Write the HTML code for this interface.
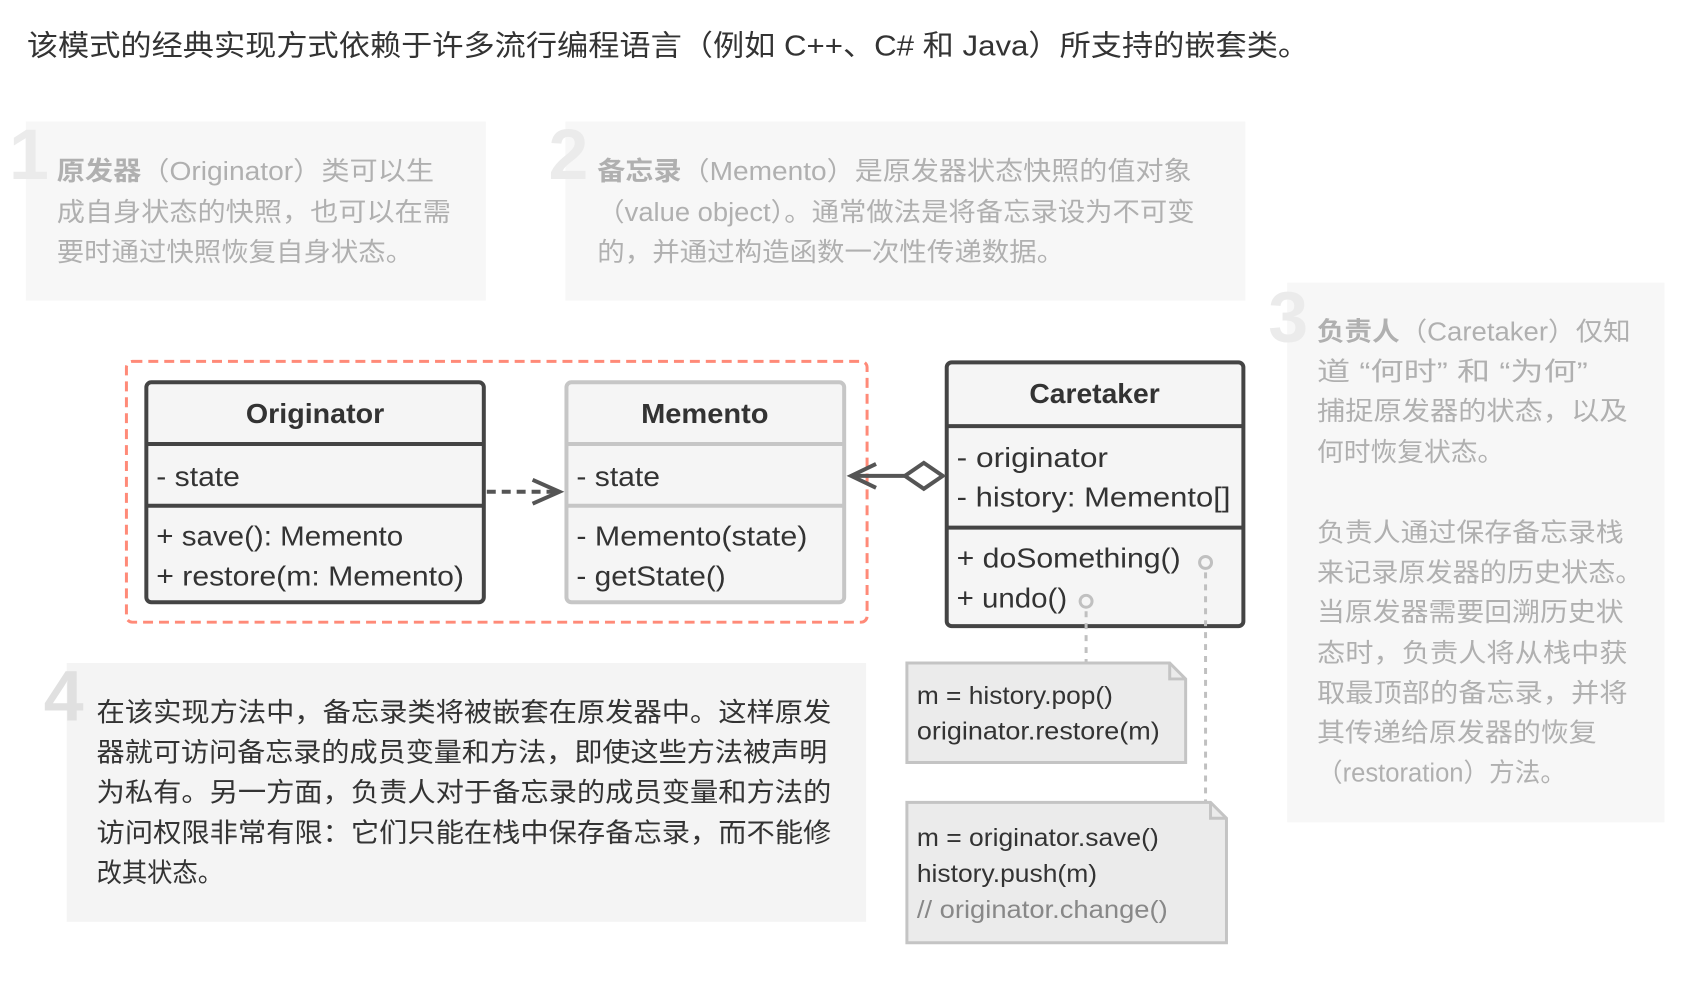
<!DOCTYPE html>
<html><head><meta charset="utf-8"><style>
html,body{margin:0;padding:0;background:#fff;}
svg{display:block;}
text{font-family:"Liberation Sans","Noto Sans CJK SC",sans-serif;}
</style></head><body>
<svg width="1702" height="1006" viewBox="0 0 1702 1006" xmlns="http://www.w3.org/2000/svg">
<g transform="scale(0.9955)">
<text x="27" y="56" font-size="29" fill="#333" textLength="1288" lengthAdjust="spacingAndGlyphs">该模式的经典实现方式依赖于许多流行编程语言（例如 C++、C# 和 Java）所支持的嵌套类。</text>

<rect x="26" y="122" width="462" height="180" fill="#f7f7f7"/>
<text x="9" y="180" font-size="72" font-weight="bold" fill="#ebebeb">1</text>
<g font-size="26" fill="#b0b0b0">
<text x="57" y="181" textLength="379" lengthAdjust="spacingAndGlyphs"><tspan font-weight="bold">原发器</tspan>（Originator）类可以生</text>
<text x="57" y="222" textLength="396" lengthAdjust="spacingAndGlyphs">成自身状态的快照，也可以在需</text>
<text x="57" y="262" textLength="358" lengthAdjust="spacingAndGlyphs">要时通过快照恢复自身状态。</text>
</g>

<rect x="568" y="122" width="683" height="180" fill="#f7f7f7"/>
<text x="551" y="180" font-size="72" font-weight="bold" fill="#ebebeb">2</text>
<g font-size="26" fill="#b0b0b0">
<text x="600" y="181" textLength="597" lengthAdjust="spacingAndGlyphs"><tspan font-weight="bold">备忘录</tspan>（Memento）是原发器状态快照的值对象</text>
<text x="600" y="222" textLength="600" lengthAdjust="spacingAndGlyphs">（value object）。通常做法是将备忘录设为不可变</text>
<text x="600" y="262" textLength="469" lengthAdjust="spacingAndGlyphs">的，并通过构造函数一次性传递数据。</text>
</g>

<rect x="1293" y="284" width="379" height="542" fill="#f7f7f7"/>
<text x="1274" y="343" font-size="72" font-weight="bold" fill="#ebebeb">3</text>
<g font-size="26" fill="#b0b0b0">
<text x="1323" y="342" textLength="315" lengthAdjust="spacingAndGlyphs"><tspan font-weight="bold">负责人</tspan>（Caretaker）仅知</text>
<text x="1323" y="382" textLength="272" lengthAdjust="spacingAndGlyphs">道 “何时” 和 “为何”</text>
<text x="1323" y="422" textLength="312" lengthAdjust="spacingAndGlyphs">捕捉原发器的状态，以及</text>
<text x="1323" y="463" textLength="188" lengthAdjust="spacingAndGlyphs">何时恢复状态。</text>
<text x="1323" y="544" textLength="308" lengthAdjust="spacingAndGlyphs">负责人通过保存备忘录栈</text>
<text x="1323" y="584" textLength="327" lengthAdjust="spacingAndGlyphs">来记录原发器的历史状态。</text>
<text x="1323" y="624" textLength="308" lengthAdjust="spacingAndGlyphs">当原发器需要回溯历史状</text>
<text x="1323" y="665" textLength="312" lengthAdjust="spacingAndGlyphs">态时，负责人将从栈中获</text>
<text x="1323" y="705" textLength="312" lengthAdjust="spacingAndGlyphs">取最顶部的备忘录，并将</text>
<text x="1323" y="745" textLength="281" lengthAdjust="spacingAndGlyphs">其传递给原发器的恢复</text>
<text x="1323" y="785" textLength="250" lengthAdjust="spacingAndGlyphs">（restoration）方法。</text>
</g>

<rect x="67" y="666" width="803" height="260" fill="#f4f4f4"/>
<text x="44" y="724" font-size="72" font-weight="bold" fill="#e0e0e0">4</text>
<g font-size="27" fill="#333">
<text x="97" y="725" textLength="738" lengthAdjust="spacingAndGlyphs">在该实现方法中，备忘录类将被嵌套在原发器中。这样原发</text>
<text x="97" y="765" textLength="734" lengthAdjust="spacingAndGlyphs">器就可访问备忘录的成员变量和方法，即使这些方法被声明</text>
<text x="97" y="805" textLength="738" lengthAdjust="spacingAndGlyphs">为私有。另一方面，负责人对于备忘录的成员变量和方法的</text>
<text x="97" y="846" textLength="738" lengthAdjust="spacingAndGlyphs">访问权限非常有限：它们只能在栈中保存备忘录，而不能修</text>
<text x="97" y="886" textLength="127" lengthAdjust="spacingAndGlyphs">改其状态。</text>
</g>

<rect x="127" y="363" width="744" height="262" rx="6" fill="none" stroke="#ff8a78" stroke-width="3" stroke-dasharray="10,6"/>

<g stroke="#444" stroke-width="4" fill="#f5f5f5">
<rect x="147" y="384" width="339" height="221" rx="5"/>
<line x1="147" y1="446" x2="486" y2="446"/>
<line x1="147" y1="508" x2="486" y2="508"/>
</g>
<g stroke="#c6c6c6" stroke-width="4" fill="#f5f5f5">
<rect x="569" y="384" width="279" height="221" rx="5"/>
<line x1="569" y1="446" x2="848" y2="446"/>
<line x1="569" y1="508" x2="848" y2="508"/>
</g>
<g stroke="#444" stroke-width="4" fill="#f5f5f5">
<rect x="951" y="364" width="298" height="265" rx="5"/>
<line x1="951" y1="428" x2="1249" y2="428"/>
<line x1="951" y1="530" x2="1249" y2="530"/>
</g>

<g font-size="28" fill="#333">
<text x="247" y="425" font-weight="bold" textLength="139" lengthAdjust="spacingAndGlyphs">Originator</text>
<text x="157" y="488" textLength="84" lengthAdjust="spacingAndGlyphs">- state</text>
<text x="157" y="548" textLength="248" lengthAdjust="spacingAndGlyphs">+ save(): Memento</text>
<text x="157" y="588" textLength="309" lengthAdjust="spacingAndGlyphs">+ restore(m: Memento)</text>

<text x="644" y="425" font-weight="bold" textLength="128" lengthAdjust="spacingAndGlyphs">Memento</text>
<text x="579" y="488" textLength="84" lengthAdjust="spacingAndGlyphs">- state</text>
<text x="579" y="548" textLength="232" lengthAdjust="spacingAndGlyphs">- Memento(state)</text>
<text x="579" y="588" textLength="150" lengthAdjust="spacingAndGlyphs">- getState()</text>

<text x="1034" y="405" font-weight="bold" textLength="131" lengthAdjust="spacingAndGlyphs">Caretaker</text>
<text x="961" y="469" textLength="152" lengthAdjust="spacingAndGlyphs">- originator</text>
<text x="961" y="509" textLength="275" lengthAdjust="spacingAndGlyphs">- history: Memento[]</text>
<text x="961" y="570" textLength="225" lengthAdjust="spacingAndGlyphs">+ doSomething()</text>
<text x="961" y="610" textLength="111" lengthAdjust="spacingAndGlyphs">+ undo()</text>
</g>

<line x1="489" y1="494" x2="562" y2="494" stroke="#555" stroke-width="4" stroke-dasharray="9,6"/>
<polyline points="535,482 562,494 535,506" fill="none" stroke="#555" stroke-width="4"/>

<line x1="855" y1="478" x2="910" y2="478" stroke="#555" stroke-width="4"/>
<polyline points="880,466 855,478 880,490" fill="none" stroke="#555" stroke-width="4"/>
<polygon points="909,478 928,465 947,478 928,491" fill="#fff" stroke="#555" stroke-width="4"/>

<circle cx="1211" cy="565" r="6" fill="none" stroke="#c0c0c0" stroke-width="3"/>
<circle cx="1091" cy="604" r="6" fill="none" stroke="#c0c0c0" stroke-width="3"/>
<line x1="1091" y1="614" x2="1091" y2="665" stroke="#c0c0c0" stroke-width="3" stroke-dasharray="6,6"/>
<line x1="1211" y1="575" x2="1211" y2="806" stroke="#c0c0c0" stroke-width="3" stroke-dasharray="6,6"/>

<g fill="#ebebeb" stroke="#c4c4c4" stroke-width="3">
<path d="M911,666 L1175,666 L1191,682 L1191,766 L911,766 Z"/>
<path d="M1175,666 L1175,682 L1191,682" fill="none"/>
<path d="M911,806 L1216,806 L1232,822 L1232,947 L911,947 Z"/>
<path d="M1216,806 L1216,822 L1232,822" fill="none"/>
</g>
<g font-size="25" fill="#333">
<text x="921" y="707" textLength="197" lengthAdjust="spacingAndGlyphs">m = history.pop()</text>
<text x="921" y="743" textLength="244" lengthAdjust="spacingAndGlyphs">originator.restore(m)</text>
<text x="921" y="850" textLength="243" lengthAdjust="spacingAndGlyphs">m = originator.save()</text>
<text x="921" y="886" textLength="181" lengthAdjust="spacingAndGlyphs">history.push(m)</text>
<text x="921" y="922" fill="#888" textLength="252" lengthAdjust="spacingAndGlyphs">// originator.change()</text>
</g>
</g>
</svg>
</body></html>
